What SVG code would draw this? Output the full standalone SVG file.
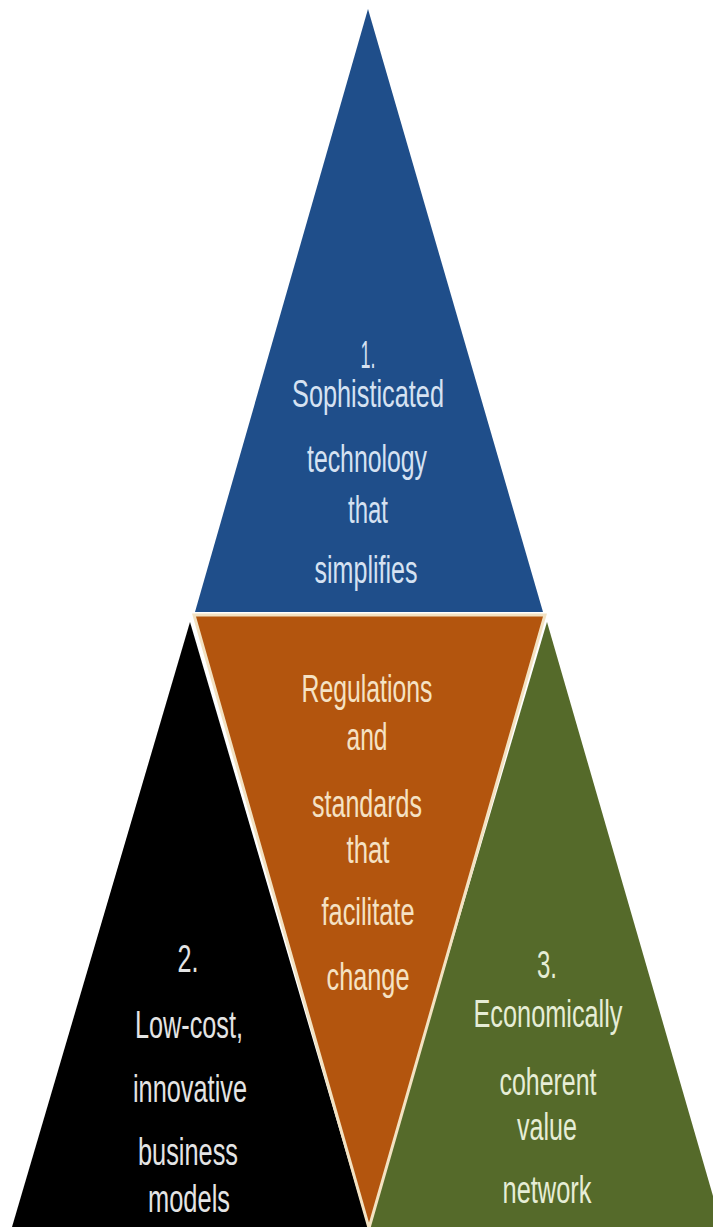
<svg xmlns="http://www.w3.org/2000/svg" width="713" height="1227" viewBox="0 0 713 1227">
<style>
.t{font-family:"Liberation Sans",Arial,sans-serif;font-size:38px;text-anchor:middle}
.tb{fill:#D6E2F2}
.to{fill:#F5E2C4}
.tk{fill:#E4E4E4}
.tg{fill:#E6EDD6}
</style>
<rect width="713" height="1227" fill="#FFFFFF"/>
<g id="node-blue">
<polygon points="368,9 195,612 543,612" fill="#1F4E8A"/>
<text class="t tb" x="368" y="368" textLength="15" lengthAdjust="spacingAndGlyphs">1.</text>
<text class="t tb" x="368" y="407" textLength="152" lengthAdjust="spacingAndGlyphs">Sophisticated</text>
<text class="t tb" x="367" y="472" textLength="120" lengthAdjust="spacingAndGlyphs">technology</text>
<text class="t tb" x="368" y="523" textLength="40" lengthAdjust="spacingAndGlyphs">that</text>
<text class="t tb" x="366" y="583" textLength="103" lengthAdjust="spacingAndGlyphs">simplifies</text>
</g>
<g id="node-black">
<polygon points="190,622 12,1227 368,1227" fill="#000000"/>
<text class="t tk" x="188" y="972" textLength="21" lengthAdjust="spacingAndGlyphs">2.</text>
<text class="t tk" x="189" y="1038" textLength="108" lengthAdjust="spacingAndGlyphs">Low-cost,</text>
<text class="t tk" x="190" y="1102" textLength="114" lengthAdjust="spacingAndGlyphs">innovative</text>
<text class="t tk" x="188" y="1165" textLength="100" lengthAdjust="spacingAndGlyphs">business</text>
<text class="t tk" x="189" y="1212" textLength="82" lengthAdjust="spacingAndGlyphs">models</text>
</g>
<g id="node-green">
<polygon points="368,1227 547,622 722,1227" fill="#556A2A"/>
<text class="t tg" x="547" y="978" textLength="20" lengthAdjust="spacingAndGlyphs">3.</text>
<text class="t tg" x="548" y="1027" textLength="149" lengthAdjust="spacingAndGlyphs">Economically</text>
<text class="t tg" x="548" y="1095" textLength="97" lengthAdjust="spacingAndGlyphs">coherent</text>
<text class="t tg" x="547" y="1140" textLength="60" lengthAdjust="spacingAndGlyphs">value</text>
<text class="t tg" x="547" y="1203" textLength="89" lengthAdjust="spacingAndGlyphs">network</text>
</g>
<g id="node-orange">
<polygon points="194,615 545,615 369,1228" fill="#B3550E" stroke="#F3E2C2" stroke-width="3" stroke-linejoin="miter"/>
<text class="t to" x="367" y="702" textLength="131" lengthAdjust="spacingAndGlyphs">Regulations</text>
<text class="t to" x="367" y="750" textLength="41" lengthAdjust="spacingAndGlyphs">and</text>
<text class="t to" x="367" y="817" textLength="110" lengthAdjust="spacingAndGlyphs">standards</text>
<text class="t to" x="368" y="863" textLength="43" lengthAdjust="spacingAndGlyphs">that</text>
<text class="t to" x="368" y="925" textLength="93" lengthAdjust="spacingAndGlyphs">facilitate</text>
<text class="t to" x="368" y="990" textLength="83" lengthAdjust="spacingAndGlyphs">change</text>
</g>
<g id="connectors"></g>
</svg>
